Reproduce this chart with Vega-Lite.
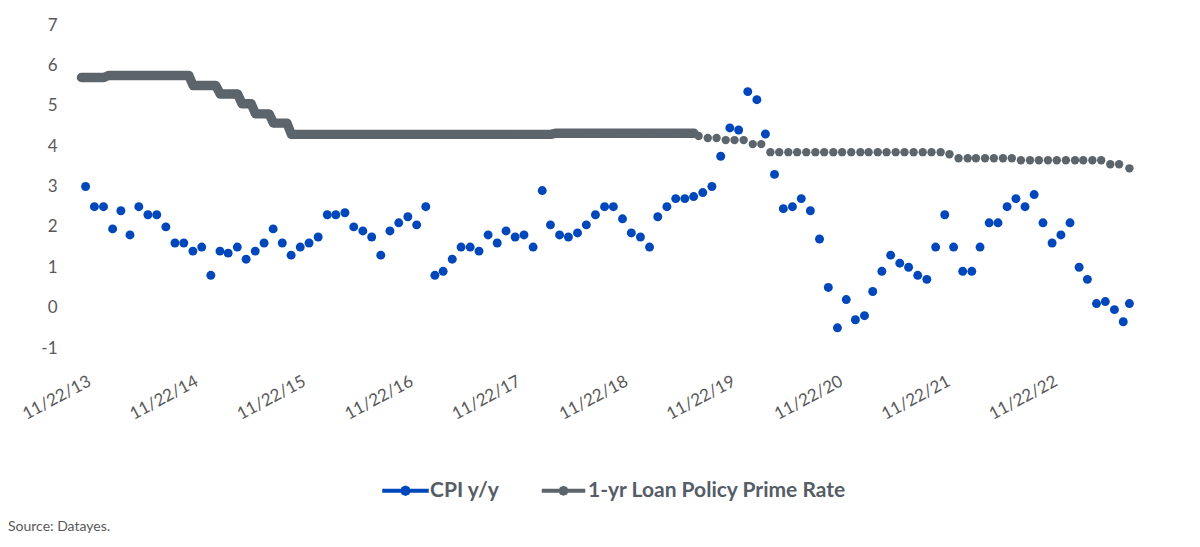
{
"$schema": "https://vega.github.io/schema/vega-lite/v6.json",
"width": 1085, "height": 323,
"autosize": {"type": "none"},
"padding": {"left": 65, "top": 25, "right": 50, "bottom": 199},
"background": "white",
"config": {"font": "Lato", "view": {"stroke": null},
  "axis": {"grid": false, "domain": false, "ticks": false, "labelFont": "Lato", "labelColor": "#595959", "labelFontSize": 17}},
"title": {"text": "Source: Datayes.", "orient": "bottom", "anchor": "start", "frame": "group", "fontSize": 14, "fontWeight": "normal", "color": "#595959", "font": "Lato", "dx": -57, "offset": 18},
"data": {"values": [
{"s":"L","d":"2013-11-08","v":5.7},{"s":"L","d":"2013-11-23","v":5.7},{"s":"L","d":"2013-12-08","v":5.7},{"s":"L","d":"2013-12-23","v":5.7},
{"s":"L","d":"2014-01-08","v":5.7},{"s":"L","d":"2014-01-23","v":5.7},{"s":"L","d":"2014-02-08","v":5.75},{"s":"L","d":"2014-02-23","v":5.75},{"s":"L","d":"2014-03-08","v":5.75},{"s":"L","d":"2014-03-23","v":5.75},{"s":"L","d":"2014-04-08","v":5.75},{"s":"L","d":"2014-04-23","v":5.75},{"s":"L","d":"2014-05-08","v":5.75},{"s":"L","d":"2014-05-23","v":5.75},{"s":"L","d":"2014-06-08","v":5.75},{"s":"L","d":"2014-06-23","v":5.75},{"s":"L","d":"2014-07-08","v":5.75},{"s":"L","d":"2014-07-23","v":5.75},{"s":"L","d":"2014-08-08","v":5.75},{"s":"L","d":"2014-08-23","v":5.75},{"s":"L","d":"2014-09-08","v":5.75},{"s":"L","d":"2014-09-23","v":5.75},{"s":"L","d":"2014-10-08","v":5.75},{"s":"L","d":"2014-10-23","v":5.75},{"s":"L","d":"2014-11-08","v":5.75},{"s":"L","d":"2014-11-23","v":5.5},{"s":"L","d":"2014-12-08","v":5.5},{"s":"L","d":"2014-12-23","v":5.5},
{"s":"L","d":"2015-01-08","v":5.5},{"s":"L","d":"2015-01-23","v":5.5},{"s":"L","d":"2015-02-08","v":5.5},{"s":"L","d":"2015-02-23","v":5.29},{"s":"L","d":"2015-03-08","v":5.29},{"s":"L","d":"2015-03-23","v":5.29},{"s":"L","d":"2015-04-08","v":5.29},{"s":"L","d":"2015-04-23","v":5.29},{"s":"L","d":"2015-05-08","v":5.05},{"s":"L","d":"2015-05-23","v":5.05},{"s":"L","d":"2015-06-08","v":5.05},{"s":"L","d":"2015-06-23","v":4.8},{"s":"L","d":"2015-07-08","v":4.8},{"s":"L","d":"2015-07-23","v":4.8},{"s":"L","d":"2015-08-08","v":4.8},{"s":"L","d":"2015-08-23","v":4.57},{"s":"L","d":"2015-09-08","v":4.57},{"s":"L","d":"2015-09-23","v":4.57},{"s":"L","d":"2015-10-08","v":4.57},{"s":"L","d":"2015-10-23","v":4.29},{"s":"L","d":"2015-11-08","v":4.29},{"s":"L","d":"2015-11-23","v":4.29},{"s":"L","d":"2015-12-08","v":4.29},{"s":"L","d":"2015-12-23","v":4.29},
{"s":"L","d":"2016-01-08","v":4.29},{"s":"L","d":"2016-01-23","v":4.29},{"s":"L","d":"2016-02-08","v":4.29},{"s":"L","d":"2016-02-23","v":4.29},{"s":"L","d":"2016-03-08","v":4.29},{"s":"L","d":"2016-03-23","v":4.29},{"s":"L","d":"2016-04-08","v":4.29},{"s":"L","d":"2016-04-23","v":4.29},{"s":"L","d":"2016-05-08","v":4.29},{"s":"L","d":"2016-05-23","v":4.29},{"s":"L","d":"2016-06-08","v":4.29},{"s":"L","d":"2016-06-23","v":4.29},{"s":"L","d":"2016-07-08","v":4.29},{"s":"L","d":"2016-07-23","v":4.29},{"s":"L","d":"2016-08-08","v":4.29},{"s":"L","d":"2016-08-23","v":4.29},{"s":"L","d":"2016-09-08","v":4.29},{"s":"L","d":"2016-09-23","v":4.29},{"s":"L","d":"2016-10-08","v":4.29},{"s":"L","d":"2016-10-23","v":4.29},{"s":"L","d":"2016-11-08","v":4.29},{"s":"L","d":"2016-11-23","v":4.29},{"s":"L","d":"2016-12-08","v":4.29},{"s":"L","d":"2016-12-23","v":4.29},
{"s":"L","d":"2017-01-08","v":4.29},{"s":"L","d":"2017-01-23","v":4.29},{"s":"L","d":"2017-02-08","v":4.29},{"s":"L","d":"2017-02-23","v":4.29},{"s":"L","d":"2017-03-08","v":4.29},{"s":"L","d":"2017-03-23","v":4.29},{"s":"L","d":"2017-04-08","v":4.29},{"s":"L","d":"2017-04-23","v":4.29},{"s":"L","d":"2017-05-08","v":4.29},{"s":"L","d":"2017-05-23","v":4.29},{"s":"L","d":"2017-06-08","v":4.29},{"s":"L","d":"2017-06-23","v":4.29},{"s":"L","d":"2017-07-08","v":4.29},{"s":"L","d":"2017-07-23","v":4.29},{"s":"L","d":"2017-08-08","v":4.29},{"s":"L","d":"2017-08-23","v":4.29},{"s":"L","d":"2017-09-08","v":4.29},{"s":"L","d":"2017-09-23","v":4.29},{"s":"L","d":"2017-10-08","v":4.29},{"s":"L","d":"2017-10-23","v":4.29},{"s":"L","d":"2017-11-08","v":4.29},{"s":"L","d":"2017-11-23","v":4.29},{"s":"L","d":"2017-12-08","v":4.29},{"s":"L","d":"2017-12-23","v":4.29},
{"s":"L","d":"2018-01-08","v":4.29},{"s":"L","d":"2018-01-23","v":4.29},{"s":"L","d":"2018-02-08","v":4.29},{"s":"L","d":"2018-02-23","v":4.29},{"s":"L","d":"2018-03-08","v":4.29},{"s":"L","d":"2018-03-23","v":4.29},{"s":"L","d":"2018-04-08","v":4.32},{"s":"L","d":"2018-04-23","v":4.32},{"s":"L","d":"2018-05-08","v":4.32},{"s":"L","d":"2018-05-23","v":4.32},{"s":"L","d":"2018-06-08","v":4.32},{"s":"L","d":"2018-06-23","v":4.32},{"s":"L","d":"2018-07-08","v":4.32},{"s":"L","d":"2018-07-23","v":4.32},{"s":"L","d":"2018-08-08","v":4.32},{"s":"L","d":"2018-08-23","v":4.32},{"s":"L","d":"2018-09-08","v":4.32},{"s":"L","d":"2018-09-23","v":4.32},{"s":"L","d":"2018-10-08","v":4.32},{"s":"L","d":"2018-10-23","v":4.32},{"s":"L","d":"2018-11-08","v":4.32},{"s":"L","d":"2018-11-23","v":4.32},{"s":"L","d":"2018-12-08","v":4.32},{"s":"L","d":"2018-12-23","v":4.32},
{"s":"L","d":"2019-01-08","v":4.32},{"s":"L","d":"2019-01-23","v":4.32},{"s":"L","d":"2019-02-08","v":4.32},{"s":"L","d":"2019-02-23","v":4.32},{"s":"L","d":"2019-03-08","v":4.32},{"s":"L","d":"2019-03-23","v":4.32},{"s":"L","d":"2019-04-08","v":4.32},{"s":"L","d":"2019-04-23","v":4.32},{"s":"L","d":"2019-05-08","v":4.32},{"s":"L","d":"2019-05-23","v":4.32},{"s":"L","d":"2019-06-08","v":4.32},{"s":"L","d":"2019-06-23","v":4.32},{"s":"L","d":"2019-07-08","v":4.32},{"s":"L","d":"2019-07-23","v":4.32},
{"s":"L","d":"2019-08-08","v":4.25},{"s":"L","d":"2019-09-08","v":4.2},{"s":"L","d":"2019-10-08","v":4.2},{"s":"L","d":"2019-11-08","v":4.15},{"s":"L","d":"2019-12-08","v":4.15},
{"s":"L","d":"2020-01-08","v":4.15},{"s":"L","d":"2020-02-08","v":4.05},{"s":"L","d":"2020-03-08","v":4.05},{"s":"L","d":"2020-04-08","v":3.85},{"s":"L","d":"2020-05-08","v":3.85},{"s":"L","d":"2020-06-08","v":3.85},{"s":"L","d":"2020-07-08","v":3.85},{"s":"L","d":"2020-08-08","v":3.85},{"s":"L","d":"2020-09-08","v":3.85},{"s":"L","d":"2020-10-08","v":3.85},{"s":"L","d":"2020-11-08","v":3.85},{"s":"L","d":"2020-12-08","v":3.85},
{"s":"L","d":"2021-01-08","v":3.85},{"s":"L","d":"2021-02-08","v":3.85},{"s":"L","d":"2021-03-08","v":3.85},{"s":"L","d":"2021-04-08","v":3.85},{"s":"L","d":"2021-05-08","v":3.85},{"s":"L","d":"2021-06-08","v":3.85},{"s":"L","d":"2021-07-08","v":3.85},{"s":"L","d":"2021-08-08","v":3.85},{"s":"L","d":"2021-09-08","v":3.85},{"s":"L","d":"2021-10-08","v":3.85},{"s":"L","d":"2021-11-08","v":3.85},{"s":"L","d":"2021-12-08","v":3.8},
{"s":"L","d":"2022-01-08","v":3.7},{"s":"L","d":"2022-02-08","v":3.7},{"s":"L","d":"2022-03-08","v":3.7},{"s":"L","d":"2022-04-08","v":3.7},{"s":"L","d":"2022-05-08","v":3.7},{"s":"L","d":"2022-06-08","v":3.7},{"s":"L","d":"2022-07-08","v":3.7},{"s":"L","d":"2022-08-08","v":3.65},{"s":"L","d":"2022-09-08","v":3.65},{"s":"L","d":"2022-10-08","v":3.65},{"s":"L","d":"2022-11-08","v":3.65},{"s":"L","d":"2022-12-08","v":3.65},
{"s":"L","d":"2023-01-08","v":3.65},{"s":"L","d":"2023-02-08","v":3.65},{"s":"L","d":"2023-03-08","v":3.65},{"s":"L","d":"2023-04-08","v":3.65},{"s":"L","d":"2023-05-08","v":3.65},{"s":"L","d":"2023-06-08","v":3.55},{"s":"L","d":"2023-07-08","v":3.55},{"s":"L","d":"2023-08-12","v":3.45},
{"s":"C","d":"2013-11-22","v":3.0},{"s":"C","d":"2013-12-22","v":2.5},{"s":"C","d":"2014-01-22","v":2.5},{"s":"C","d":"2014-02-22","v":1.95},{"s":"C","d":"2014-03-22","v":2.4},{"s":"C","d":"2014-04-22","v":1.8},{"s":"C","d":"2014-05-22","v":2.5},{"s":"C","d":"2014-06-22","v":2.3},{"s":"C","d":"2014-07-22","v":2.3},{"s":"C","d":"2014-08-22","v":2.0},{"s":"C","d":"2014-09-22","v":1.6},{"s":"C","d":"2014-10-22","v":1.6},{"s":"C","d":"2014-11-22","v":1.4},{"s":"C","d":"2014-12-22","v":1.5},
{"s":"C","d":"2015-01-22","v":0.8},{"s":"C","d":"2015-02-22","v":1.4},{"s":"C","d":"2015-03-22","v":1.35},{"s":"C","d":"2015-04-22","v":1.5},{"s":"C","d":"2015-05-22","v":1.2},{"s":"C","d":"2015-06-22","v":1.4},{"s":"C","d":"2015-07-22","v":1.6},{"s":"C","d":"2015-08-22","v":1.95},{"s":"C","d":"2015-09-22","v":1.6},{"s":"C","d":"2015-10-22","v":1.3},{"s":"C","d":"2015-11-22","v":1.5},{"s":"C","d":"2015-12-22","v":1.6},
{"s":"C","d":"2016-01-22","v":1.75},{"s":"C","d":"2016-02-22","v":2.3},{"s":"C","d":"2016-03-22","v":2.3},{"s":"C","d":"2016-04-22","v":2.35},{"s":"C","d":"2016-05-22","v":2.0},{"s":"C","d":"2016-06-22","v":1.9},{"s":"C","d":"2016-07-22","v":1.75},{"s":"C","d":"2016-08-22","v":1.3},{"s":"C","d":"2016-09-22","v":1.9},{"s":"C","d":"2016-10-22","v":2.1},{"s":"C","d":"2016-11-22","v":2.25},{"s":"C","d":"2016-12-22","v":2.05},
{"s":"C","d":"2017-01-22","v":2.5},{"s":"C","d":"2017-02-22","v":0.8},{"s":"C","d":"2017-03-22","v":0.9},{"s":"C","d":"2017-04-22","v":1.2},{"s":"C","d":"2017-05-22","v":1.5},{"s":"C","d":"2017-06-22","v":1.5},{"s":"C","d":"2017-07-22","v":1.4},{"s":"C","d":"2017-08-22","v":1.8},{"s":"C","d":"2017-09-22","v":1.6},{"s":"C","d":"2017-10-22","v":1.9},{"s":"C","d":"2017-11-22","v":1.75},{"s":"C","d":"2017-12-22","v":1.8},
{"s":"C","d":"2018-01-22","v":1.5},{"s":"C","d":"2018-02-22","v":2.9},{"s":"C","d":"2018-03-22","v":2.05},{"s":"C","d":"2018-04-22","v":1.8},{"s":"C","d":"2018-05-22","v":1.75},{"s":"C","d":"2018-06-22","v":1.85},{"s":"C","d":"2018-07-22","v":2.05},{"s":"C","d":"2018-08-22","v":2.3},{"s":"C","d":"2018-09-22","v":2.5},{"s":"C","d":"2018-10-22","v":2.5},{"s":"C","d":"2018-11-22","v":2.2},{"s":"C","d":"2018-12-22","v":1.85},
{"s":"C","d":"2019-01-22","v":1.75},{"s":"C","d":"2019-02-22","v":1.5},{"s":"C","d":"2019-03-22","v":2.25},{"s":"C","d":"2019-04-22","v":2.5},{"s":"C","d":"2019-05-22","v":2.7},{"s":"C","d":"2019-06-22","v":2.7},{"s":"C","d":"2019-07-22","v":2.75},{"s":"C","d":"2019-08-22","v":2.85},{"s":"C","d":"2019-09-22","v":3.0},{"s":"C","d":"2019-10-22","v":3.75},{"s":"C","d":"2019-11-22","v":4.45},{"s":"C","d":"2019-12-22","v":4.4},
{"s":"C","d":"2020-01-22","v":5.35},{"s":"C","d":"2020-02-22","v":5.15},{"s":"C","d":"2020-03-22","v":4.3},{"s":"C","d":"2020-04-22","v":3.3},{"s":"C","d":"2020-05-22","v":2.45},{"s":"C","d":"2020-06-22","v":2.5},{"s":"C","d":"2020-07-22","v":2.7},{"s":"C","d":"2020-08-22","v":2.4},{"s":"C","d":"2020-09-22","v":1.7},{"s":"C","d":"2020-10-22","v":0.5},{"s":"C","d":"2020-11-22","v":-0.5},{"s":"C","d":"2020-12-22","v":0.2},
{"s":"C","d":"2021-01-22","v":-0.3},{"s":"C","d":"2021-02-22","v":-0.2},{"s":"C","d":"2021-03-22","v":0.4},{"s":"C","d":"2021-04-22","v":0.9},{"s":"C","d":"2021-05-22","v":1.3},{"s":"C","d":"2021-06-22","v":1.1},{"s":"C","d":"2021-07-22","v":1.0},{"s":"C","d":"2021-08-22","v":0.8},{"s":"C","d":"2021-09-22","v":0.7},{"s":"C","d":"2021-10-22","v":1.5},{"s":"C","d":"2021-11-22","v":2.3},{"s":"C","d":"2021-12-22","v":1.5},
{"s":"C","d":"2022-01-22","v":0.9},{"s":"C","d":"2022-02-22","v":0.9},{"s":"C","d":"2022-03-22","v":1.5},{"s":"C","d":"2022-04-22","v":2.1},{"s":"C","d":"2022-05-22","v":2.1},{"s":"C","d":"2022-06-22","v":2.5},{"s":"C","d":"2022-07-22","v":2.7},{"s":"C","d":"2022-08-22","v":2.5},{"s":"C","d":"2022-09-22","v":2.8},{"s":"C","d":"2022-10-22","v":2.1},{"s":"C","d":"2022-11-22","v":1.6},{"s":"C","d":"2022-12-22","v":1.8},
{"s":"C","d":"2023-01-22","v":2.1},{"s":"C","d":"2023-02-22","v":1.0},{"s":"C","d":"2023-03-22","v":0.7},{"s":"C","d":"2023-04-22","v":0.1},{"s":"C","d":"2023-05-22","v":0.15},{"s":"C","d":"2023-06-22","v":-0.05},{"s":"C","d":"2023-07-22","v":-0.35},{"s":"C","d":"2023-08-12","v":0.1}
]},
"encoding": {
  "x": {"field": "d", "type": "temporal",
    "scale": {"type": "utc", "domain": [{"year": 2013, "month": 9, "date": 13, "utc": true}, {"year": 2023, "month": 10, "date": 21, "utc": true}]},
    "axis": {"title": null, "format": "%m/%d/%y", "labelAngle": -28, "labelAlign": "right", "labelBaseline": "top", "labelPadding": 25, "labelOverlap": false, "labelFlush": false, "labelBound": false,
      "values": [
        {"year": 2013, "month": 11, "date": 22, "utc": true},
        {"year": 2014, "month": 11, "date": 22, "utc": true},
        {"year": 2015, "month": 11, "date": 22, "utc": true},
        {"year": 2016, "month": 11, "date": 22, "utc": true},
        {"year": 2017, "month": 11, "date": 22, "utc": true},
        {"year": 2018, "month": 11, "date": 22, "utc": true},
        {"year": 2019, "month": 11, "date": 22, "utc": true},
        {"year": 2020, "month": 11, "date": 22, "utc": true},
        {"year": 2021, "month": 11, "date": 22, "utc": true},
        {"year": 2022, "month": 11, "date": 22, "utc": true}]}},
  "y": {"field": "v", "type": "quantitative",
    "scale": {"domain": [-1, 7], "nice": false, "zero": false},
    "axis": {"title": null, "values": [-1, 0, 1, 2, 3, 4, 5, 6, 7], "labelExpr": "'' + datum.value", "labelPadding": 8}}
},
"layer": [
  {"transform": [{"filter": "datum.s == 'L' && toDate(datum.d) < toDate('2019-08-01')"}],
   "mark": {"type": "line", "color": "#5C646C", "strokeWidth": 9.4, "strokeCap": "round", "strokeJoin": "round"}},
  {"mark": {"type": "point", "filled": true, "opacity": 1, "strokeWidth": 0},
   "encoding": {
     "color": {"field": "s", "type": "nominal",
      "scale": {"domain": ["C", "L"], "range": ["#0047BB", "#5C646C"]},
      "legend": {"orient": "none", "legendX": 330, "legendY": 455, "direction": "horizontal", "title": null,
        "labelExpr": "datum.label == 'C' ? 'CPI y/y' : '1-yr Loan Policy Prime Rate'",
        "symbolType": "M-5.2,0L5.2,0M0.7,0L0.5,0.5L0,0.7L-0.5,0.5L-0.7,0L-0.5,-0.5L0,-0.7L0.5,-0.5Z",
        "symbolSize": 484, "symbolStrokeWidth": 4, "symbolOpacity": 1,
        "labelFontSize": 21, "labelFontWeight": "bold", "labelColor": "#555D66", "labelFont": "Lato", "labelOffset": 14, "labelLimit": 400, "columnPadding": 33,
        "encode": {"symbols": {"update": {"shape": {"value": "M-5.2,0L5.2,0M0.7,0L0.5,0.5L0,0.7L-0.5,0.5L-0.7,0L-0.5,-0.5L0,-0.7L0.5,-0.5Z"}, "size": {"value": 484}, "stroke": {"signal": "scale('color', datum.value)"}, "strokeWidth": {"value": 4}}}}}},
     "size": {"field": "s", "type": "nominal", "scale": {"domain": ["C", "L"], "range": [80, 70]}, "legend": null}}}
]
}
